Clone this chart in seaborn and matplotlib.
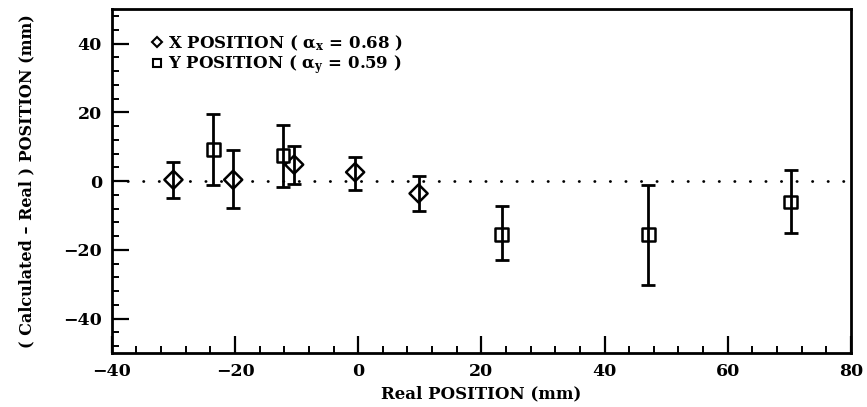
import matplotlib
matplotlib.use("Agg")
import matplotlib.pyplot as plt
from matplotlib.ticker import MultipleLocator
from matplotlib.lines import Line2D
import seaborn as sns
import pandas as pd
import numpy as np

# ---- data ----
x_pos_real = [-30, -20.3, -10.4, -0.5, 9.8]
x_pos_diff = [0.4, 0.4, 4.8, 2.6, -3.6]
x_pos_err_hi = [5.7, 9.2, 10.3, 7.0, 1.6]
x_pos_err_lo = [-5.0, -7.9, -0.7, -2.5, -8.8]

y_pos_real = [-23.5, -12.2, 23.3, 47.1, 70.2]
y_pos_diff = [9.2, 7.4, -15.6, -15.6, -6.1]
y_pos_err_hi = [19.5, 16.4, -7.3, -1.0, 3.1]
y_pos_err_lo = [-1.2, -1.7, -22.9, -30.2, -15.1]

series_labels = [r"X POSITION ( $\alpha_x$ = 0.68 )", r"Y POSITION ( $\alpha_y$ = 0.59 )"]
xlabel = "Real POSITION (mm)"
ylabel = "( Calculated \u2013 Real ) POSITION (mm)"

sns.set_theme(style="ticks")
plt.rcParams["font.family"] = ["DejaVu Serif"]
plt.rcParams["font.weight"] = "bold"
plt.rcParams["mathtext.fontset"] = "dejavuserif"
plt.rcParams["mathtext.default"] = "bf"
plt.rcParams["text.color"] = "black"
plt.rcParams["axes.labelcolor"] = "black"
plt.rcParams["xtick.color"] = "black"
plt.rcParams["ytick.color"] = "black"

df = pd.DataFrame({
    "real": x_pos_real + y_pos_real,
    "diff": x_pos_diff + y_pos_diff,
    "hi": x_pos_err_hi + y_pos_err_hi,
    "lo": x_pos_err_lo + y_pos_err_lo,
    "series": [series_labels[0]] * len(x_pos_real) + [series_labels[1]] * len(y_pos_real),
})

fig = plt.figure(figsize=(8.67, 4.07), dpi=100)
ax = fig.add_axes([0.129, 0.133, 0.8525, 0.844])

# reference line at zero
ax.axhline(0, color="black", lw=2.0, ls=(0, (0.1, 5.5)), dash_capstyle="round", zorder=1)

sns.scatterplot(data=df, x="real", y="diff", style="series",
                markers={series_labels[0]: "D", series_labels[1]: "s"},
                color="white", edgecolor="black", linewidth=1.8, s=85,
                legend=False, ax=ax, zorder=2)

# error bars (drawn through the open markers, as in the original)
for s in series_labels:
    d = df[df.series == s]
    yerr = np.vstack([d["diff"] - d["lo"], d["hi"] - d["diff"]])
    ax.errorbar(d["real"], d["diff"], yerr=yerr, fmt="none", ecolor="black",
                elinewidth=2.0, capsize=5, capthick=2.0, zorder=3)

ax.set_xlim(-40, 80)
ax.set_ylim(-50, 50)
ax.xaxis.set_major_locator(MultipleLocator(20))
ax.xaxis.set_minor_locator(MultipleLocator(4))
ax.yaxis.set_major_locator(MultipleLocator(20))
ax.yaxis.set_minor_locator(MultipleLocator(4))
ax.tick_params(which="major", direction="in", length=12, width=1.6, labelsize=12.5, pad=7, color="black")
ax.tick_params(which="minor", direction="in", length=5, width=1.4, color="black")
for lab in ax.get_xticklabels() + ax.get_yticklabels():
    lab.set_fontweight("bold")
for sp in ax.spines.values():
    sp.set_linewidth(2.0)
    sp.set_color("black")

ax.set_xlabel(xlabel, fontsize=12, fontweight="bold", labelpad=4)
ax.set_ylabel(ylabel, fontsize=11.5, fontweight="bold", labelpad=20)

handles = [
    Line2D([], [], marker="D", ls="none", mfc="white", mec="black", mew=1.5, ms=5),
    Line2D([], [], marker="s", ls="none", mfc="white", mec="black", mew=1.5, ms=6),
]
ax.legend(handles, series_labels, loc="upper left", bbox_to_anchor=(0.045, 0.95),
          frameon=False, handlelength=0.6, handletextpad=0.4,
          labelspacing=0.05, borderaxespad=0,
          prop={"weight": "bold", "size": 12})

fig.savefig("out.png", dpi=100, facecolor="white")
